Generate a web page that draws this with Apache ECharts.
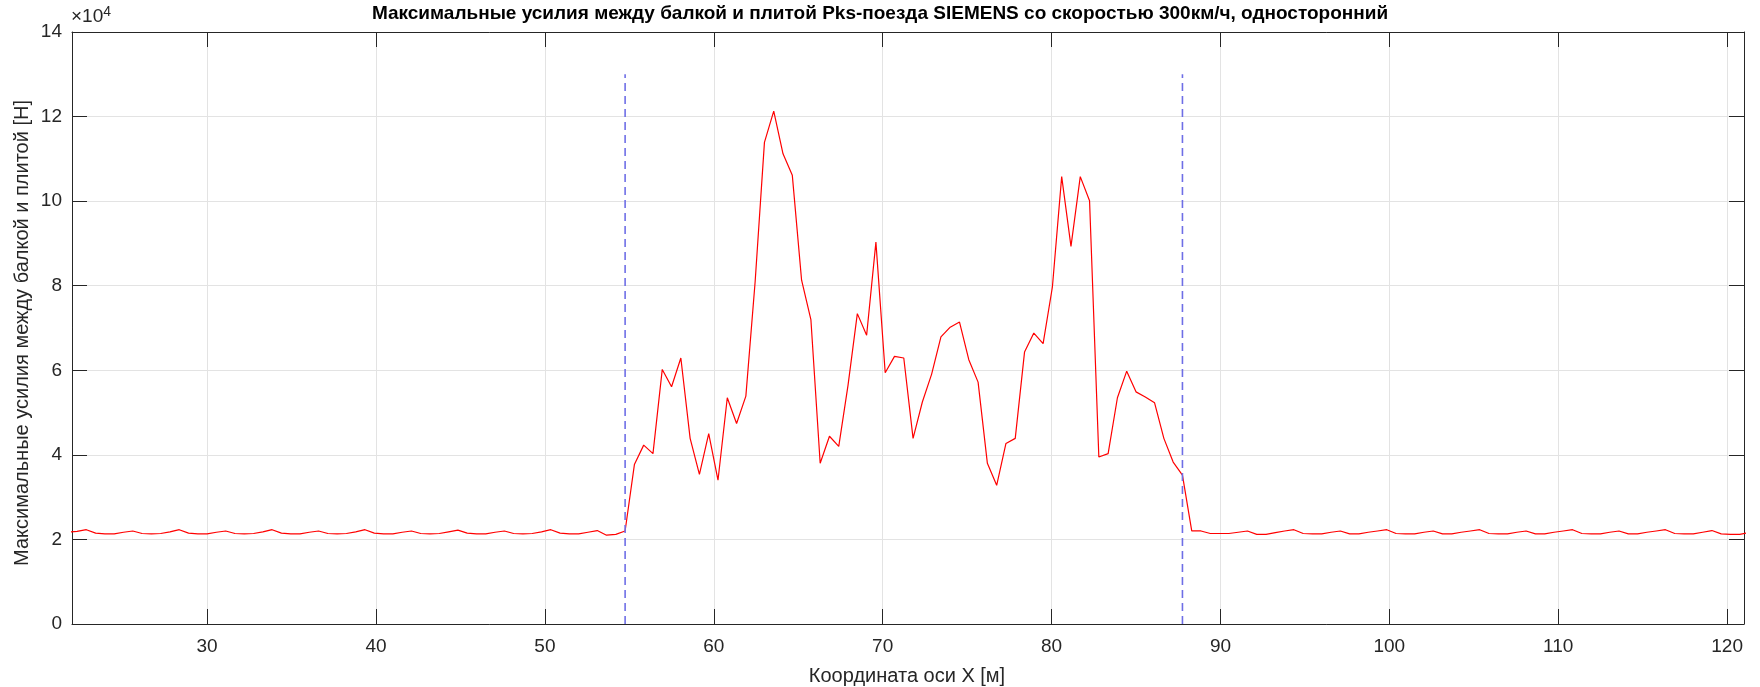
<!DOCTYPE html>
<html>
<head>
<meta charset="utf-8">
<script src="https://cdn.jsdelivr.net/npm/echarts@6/dist/echarts.min.js"></script>
<style>
  html, body { margin: 0; padding: 0; background: #ffffff; }
  #chart { width: 1760px; height: 687px; }
</style>
</head>
<body>
<div id="chart"></div>
<script>
// Sampling grid along the beam axis, metres
const xStart = 21.75;
const xStep = 0.55;

// Peak contact force, in units of 10^4 N
// approach embankment (x = 21.75 … 54.20)
const forceBefore = [
  2.17, 2.19, 2.23, 2.15, 2.13,
  2.13, 2.17, 2.20, 2.14, 2.13,
  2.14, 2.18, 2.23, 2.15, 2.13,
  2.13, 2.17, 2.20, 2.14, 2.13,
  2.14, 2.18, 2.23, 2.15, 2.13,
  2.13, 2.17, 2.20, 2.14, 2.13,
  2.14, 2.18, 2.23, 2.15, 2.13,
  2.13, 2.17, 2.20, 2.14, 2.13,
  2.14, 2.18, 2.22, 2.15, 2.13,
  2.13, 2.17, 2.20, 2.14, 2.13,
  2.14, 2.18, 2.23, 2.15, 2.13,
  2.13, 2.17, 2.21, 2.10, 2.12
];
// span between the supports (x = 54.75 … 87.75)
const forceSpan = [
  2.20, 3.77, 4.23, 4.03, 6.02, 5.61, 6.29, 4.39, 3.54, 4.50,
  3.40, 5.35, 4.74, 5.39, 8.10, 11.39, 12.13, 11.12, 10.61, 8.13,
  7.20, 3.80, 4.44, 4.20, 5.65, 7.34, 6.83, 9.03, 5.94, 6.33,
  6.29, 4.39, 5.25, 5.91, 6.79, 7.02, 7.14, 6.25, 5.72, 3.80,
  3.28, 4.27, 4.39, 6.43, 6.88, 6.63, 7.97, 10.58, 8.93, 10.58,
  10.01, 3.95, 4.03, 5.35, 5.98, 5.49, 5.37, 5.23, 4.39, 3.83,
  3.52
];
// exit embankment (x = 88.30 … 121.30)
const forceAfter = [
  2.20, 2.20, 2.14, 2.14, 2.14, 2.17, 2.20, 2.12, 2.12, 2.16,
  2.20, 2.23, 2.14, 2.13, 2.13, 2.17, 2.20, 2.13, 2.13, 2.17,
  2.20, 2.23, 2.14, 2.13, 2.13, 2.17, 2.20, 2.13, 2.13, 2.17,
  2.20, 2.23, 2.14, 2.13, 2.13, 2.17, 2.20, 2.13, 2.13, 2.17,
  2.20, 2.23, 2.14, 2.13, 2.13, 2.17, 2.20, 2.13, 2.13, 2.17,
  2.20, 2.23, 2.14, 2.13, 2.13, 2.17, 2.21, 2.13, 2.12, 2.12,
  2.16
];

// Support positions and height of their marker lines (10^4 N)
const supportX = [54.75, 87.75];
const supportTop = 13;

// Axis ranges and ticks
const xRange = [22, 121];
const xTicks = [30, 40, 50, 60, 70, 80, 90, 100, 110, 120];
const yRange = [0, 14];
const yStep = 2;

const titleText = 'Максимальные усилия между балкой и плитой Pks-поезда SIEMENS со скоростью 300км/ч, односторонний';
const xName = 'Координата оси X [м]';
const yName = 'Максимальные усилия между балкой и плитой [H]';

const FONT = '"Liberation Sans", Arial, sans-serif';
const AXIS_COLOR = '#262626';
const GRID_COLOR = '#e3e3e3';

const forces = forceBefore.concat(forceSpan, forceAfter);
const linePoints = forces.map((v, i) => [+(xStart + i * xStep).toFixed(2), v]);

const chart = echarts.init(document.getElementById('chart'), null, { renderer: 'canvas' });

const gridBox = { left: 72, right: 16, top: 32, bottom: 63 };

const commonX = {
  type: 'value', min: xRange[0], max: xRange[1],
  axisLine: { show: true, onZero: false, lineStyle: { color: AXIS_COLOR, width: 1 } }
};
const commonY = {
  type: 'value', min: yRange[0], max: yRange[1], interval: yStep,
  axisLine: { show: true, onZero: false, lineStyle: { color: AXIS_COLOR, width: 1 } }
};

const option = {
  animation: false,
  backgroundColor: '#ffffff',
  grid: { ...gridBox, containLabel: false },
  xAxis: [
    {
      ...commonX, position: 'bottom',
      axisTick: { show: true, inside: true, length: 15, customValues: xTicks, lineStyle: { color: AXIS_COLOR } },
      axisLabel: { show: true, customValues: xTicks, margin: 13, color: AXIS_COLOR, fontFamily: FONT, fontSize: 19 },
      splitLine: { show: true, lineStyle: { color: GRID_COLOR, width: 1 } }
    },
    {
      ...commonX, position: 'top',
      axisTick: { show: true, inside: true, length: 15, customValues: xTicks, lineStyle: { color: AXIS_COLOR } },
      axisLabel: { show: false },
      splitLine: { show: false }
    }
  ],
  yAxis: [
    {
      ...commonY, position: 'left',
      axisTick: { show: true, inside: true, length: 15, lineStyle: { color: AXIS_COLOR } },
      axisLabel: { show: true, margin: 10, color: AXIS_COLOR, fontFamily: FONT, fontSize: 19 },
      splitLine: { show: true, lineStyle: { color: GRID_COLOR, width: 1 } }
    },
    {
      ...commonY, position: 'right',
      axisTick: { show: true, inside: true, length: 15, lineStyle: { color: AXIS_COLOR } },
      axisLabel: { show: false },
      splitLine: { show: false }
    }
  ],
  graphic: [
    {
      type: 'text', x: 880, y: 14,
      style: { text: titleText, font: 'bold 19px ' + FONT, fill: '#000000', align: 'center', verticalAlign: 'middle' }
    },
    {
      type: 'text', x: 907, y: 676,
      style: { text: xName, font: '20px ' + FONT, fill: AXIS_COLOR, align: 'center', verticalAlign: 'middle' }
    },
    {
      type: 'text', x: 22, y: 333, rotation: Math.PI / 2,
      style: { text: yName, font: '20px ' + FONT, fill: AXIS_COLOR, align: 'center', verticalAlign: 'middle' }
    },
    {
      type: 'text', x: 71, y: 17,
      style: {
        text: '{m|×10}{e|4}', fill: AXIS_COLOR, align: 'left', verticalAlign: 'middle',
        rich: {
          m: { fontFamily: FONT, fontSize: 19, fill: AXIS_COLOR },
          e: { fontFamily: FONT, fontSize: 14, fill: AXIS_COLOR, verticalAlign: 'top', padding: [0, 0, 10, 0] }
        }
      }
    }
  ],
  series: [
    {
      type: 'line', xAxisIndex: 0, yAxisIndex: 0,
      data: linePoints, showSymbol: false, clip: true, z: 3,
      lineStyle: { color: '#ff0000', width: 1.2 }
    },
    ...supportX.map(sx => ({
      type: 'line', xAxisIndex: 0, yAxisIndex: 0,
      data: [[sx, yRange[0]], [sx, supportTop]], showSymbol: false, z: 4,
      lineStyle: { color: '#6e6ee6', width: 1.6, type: [8, 5] }
    }))
  ]
};

chart.setOption(option);
</script>
</body>
</html>
